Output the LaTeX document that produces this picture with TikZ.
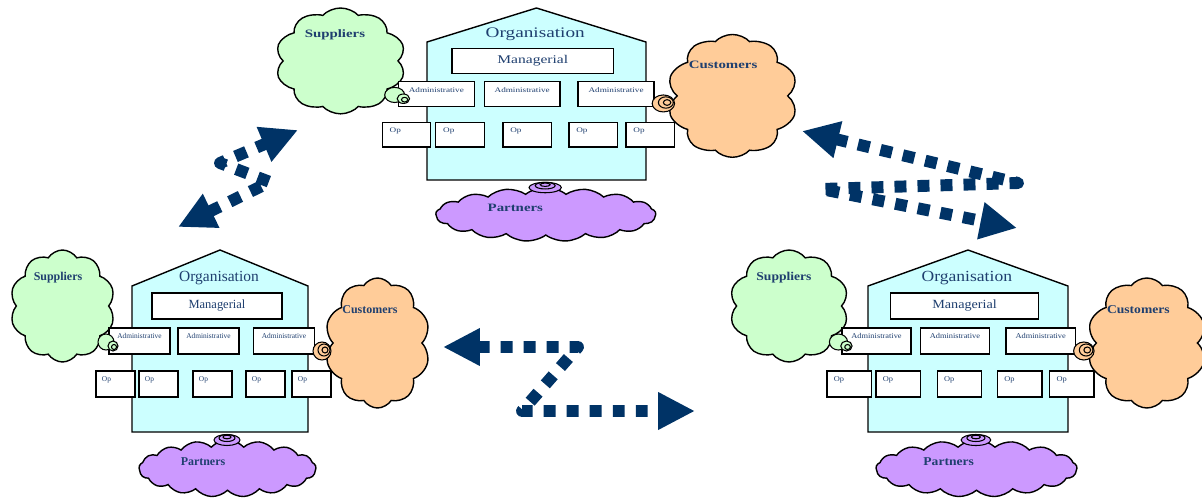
\documentclass[tikz,border=0pt]{standalone}
\usepackage{fontspec}
\setmainfont{Liberation Serif}
\usetikzlibrary{shapes.symbols}
\usetikzlibrary{arrows.meta}

\definecolor{housecyan}{HTML}{CCFFFF}
\definecolor{supgreen}{HTML}{CCFFCC}
\definecolor{cuspeach}{HTML}{FFCC99}
\definecolor{parlilac}{HTML}{CC99FF}
\definecolor{inkblue}{HTML}{1F3F6F}
\definecolor{arrowblue}{HTML}{003366}

\tikzset{
  housebody/.style={draw, line width=0.8pt, fill=housecyan},
  orgbox/.style={draw, line width=0.8pt, fill=white, inner sep=0pt, text=inkblue},
  mgrbox/.style={orgbox, minimum width=2.6cm, minimum height=0.52cm, font=\fontsize{7.1}{8}\selectfont},
  admbox/.style={orgbox, minimum width=1.22cm, minimum height=0.52cm, text height=3pt, text depth=5.3pt, font=\fontsize{4.2}{5}\selectfont},
  opbox/.style={orgbox, minimum width=0.78cm, minimum height=0.52cm, inner xsep=3.4pt, text width=15.4pt, align=left, text height=3pt, text depth=5.3pt, font=\fontsize{4.2}{5}\selectfont},
  partycloud/.style={cloud, cloud puffs=10, cloud puff arc=115, cloud ignores aspect, draw, line width=0.8pt, inner sep=0pt},
  partylbl/.style={text=inkblue, font=\bfseries\fontsize{6.8}{8}\selectfont},
  orglbl/.style={text=inkblue, font=\fontsize{8.8}{10}\selectfont},
  knob/.style={draw, line width=0.6pt},
  zigzag/.style={draw=arrowblue, line width=6.8pt, dash pattern=on 6.8pt off 6.3pt, line join=round,
    {Triangle[length=21pt,width=20pt]}-{Triangle[length=21pt,width=20pt]}},
}

% one organisation with its suppliers, customers and partners
\newcommand{\orgunit}[2]{%
  \begin{scope}[#2, transform shape]
    \node[partycloud, fill=supgreen, minimum width=2.1cm, minimum height=2.24cm] (#1-sup) at (-69.5,56) {};
    \node[partycloud, fill=cuspeach, minimum width=2.1cm, minimum height=2.6cm] (#1-cus) at (245.5,93) {};
    \node[partycloud, fill=parlilac, cloud puffs=17, cloud puff arc=95, minimum width=3.54cm, minimum height=1.14cm] (#1-par) at (95.5,218.5) {};
    \node[partylbl] (#1-suplbl) at (-74,28) {Suppliers};
    \node[partylbl] (#1-cuslbl) at (238,60) {Customers};
    \node[partylbl] (#1-parlbl) at (71,212) {Partners};

    \draw[housebody] (0,182) -- (0,36) -- (88,0) -- (176,36) -- (176,182) -- cycle;
    \node[orglbl] (#1-org) at (87,28) {Organisation};
    \node[mgrbox] (#1-mgr) at (85,56) {Managerial};
    \foreach \x [count=\i] in {7.5,76.5,152}
      \node[admbox] (#1-adm\i) at (\x,91) {Administrative};
    \foreach \x [count=\i] in {-16.5,26.5,80.5,133.5,179.5}
      \node[opbox] (#1-op\i) at (\x,134) {Op};

    \draw[knob, fill=supgreen] (-26,92) circle [radius=8];
    \draw[knob, fill=supgreen] (-19,96) circle [radius=5];
    \draw[knob] (-18,97) circle [radius=2.5];
    \draw[knob, fill=cuspeach] (190,101) circle [radius=9];
    \draw[knob] (192,100) circle [radius=6];
    \draw[knob] (193,100) circle [radius=3];
    \draw[knob, fill=parlilac] (95,190) ellipse [x radius=13, y radius=5.5];
    \draw[knob] (95,188) ellipse [x radius=8, y radius=3.5];
    \draw[knob] (95,187) ellipse [x radius=4, y radius=1.8];
  \end{scope}}

\begin{document}
\begin{tikzpicture}[x=0.02cm,y=-0.02cm]
  \useasboundingbox (0,0) rectangle (1202,497);

  \orgunit{top}{shift={(427,8)}, xscale=1.244, yscale=0.945}
  \orgunit{left}{shift={(132,250)}}
  \orgunit{right}{shift={(868,250)}, xscale=1.136}

  \coordinate (zl-1) at (178,227);
  \coordinate (zl-2) at (270,182);
  \coordinate (zl-3) at (220,163);
  \coordinate (zl-4) at (298,130);
  \draw[zigzag] (zl-1) -- (zl-2) -- (zl-3) -- (zl-4);

  \coordinate (zm-1) at (443,347);
  \coordinate (zm-2) at (578,347);
  \coordinate (zm-3) at (522,411);
  \coordinate (zm-4) at (695,411);
  \draw[zigzag] (zm-1) -- (zm-2) -- (zm-3) -- (zm-4);

  \coordinate (zr-1) at (802,131);
  \coordinate (zr-2) at (1018,183);
  \coordinate (zr-3) at (821,189);
  \coordinate (zr-4) at (1017,228);
  \draw[zigzag] (zr-1) -- (zr-2) -- (zr-3) -- (zr-4);
\end{tikzpicture}
\end{document}
